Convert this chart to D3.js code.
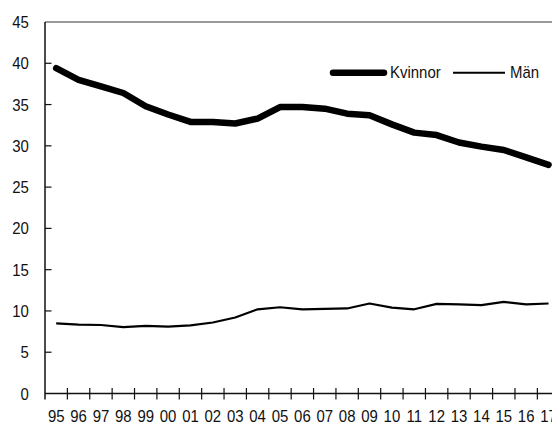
<!DOCTYPE html>
<html>
<head>
<meta charset="utf-8">
<script src="https://cdn.jsdelivr.net/npm/d3@7"></script>
<style>
  body { margin: 0; background: #fff; }
  text { font-family: "Liberation Sans", Arial, sans-serif; font-size: 17px; fill: #111; }
</style>
</head>
<body>
<svg id="chart" width="552" height="424"></svg>
<script>
const years = ["95","96","97","98","99","00","01","02","03","04","05","06","07","08","09","10","11","12","13","14","15","16","17"];
const kvinnor = [39.4, 38.0, 37.2, 36.4, 34.8, 33.8, 32.9, 32.9, 32.7, 33.3, 34.7, 34.7, 34.5, 33.9, 33.7, 32.6, 31.6, 31.3, 30.4, 29.9, 29.5, 28.6, 27.7];
const man = [8.5, 8.35, 8.3, 8.05, 8.2, 8.1, 8.25, 8.6, 9.2, 10.2, 10.45, 10.2, 10.25, 10.3, 10.9, 10.4, 10.2, 10.85, 10.8, 10.7, 11.1, 10.8, 10.9];
const yTicks = [0, 5, 10, 15, 20, 25, 30, 35, 40, 45];
const seriesNames = ["Kvinnor", "Män"];

const svg = d3.select("#chart");
const plotLeft = 45, plotTop = 22, plotBottom = 393.5;
const bandW = 22.38;
const squeeze = 0.88; // condensed look

const x = d3.scaleBand()
    .domain(years)
    .range([plotLeft, plotLeft + bandW * years.length])
    .paddingInner(0).paddingOuter(0);

const y = d3.scaleLinear()
    .domain([0, 45])
    .range([plotBottom, plotTop]);

function place(tx, ty) {
    return `translate(${tx},${ty}) scale(${squeeze},1)`;
}

// top frame line
svg.append("line")
    .attr("x1", plotLeft).attr("x2", 552)
    .attr("y1", plotTop).attr("y2", plotTop)
    .attr("stroke", "#777").attr("stroke-width", 1.5);

// y axis
const yAxis = svg.append("g");
yAxis.append("line")
    .attr("x1", plotLeft).attr("x2", plotLeft)
    .attr("y1", plotTop).attr("y2", 399.5)
    .attr("stroke", "#111").attr("stroke-width", 1.5);
yAxis.selectAll("line.tick")
    .data(yTicks.filter(d => d > 0 && d < 45))
    .join("line")
    .classed("tick", true)
    .attr("x1", plotLeft).attr("x2", plotLeft + 6.5)
    .attr("y1", d => y(d)).attr("y2", d => y(d))
    .attr("stroke", "#111").attr("stroke-width", 1.2);
yAxis.selectAll("text")
    .data(yTicks)
    .join("text")
    .attr("transform", d => place(28.8, y(d) + 6))
    .attr("text-anchor", "end")
    .text(d => d);

// x axis
const xAxis = svg.append("g");
xAxis.append("line")
    .attr("x1", plotLeft).attr("x2", 552)
    .attr("y1", plotBottom).attr("y2", plotBottom)
    .attr("stroke", "#111").attr("stroke-width", 1.5);
xAxis.selectAll("line.tick")
    .data(years.slice(1))
    .join("line")
    .classed("tick", true)
    .attr("x1", d => x(d)).attr("x2", d => x(d))
    .attr("y1", plotBottom - 5.5).attr("y2", plotBottom + 6)
    .attr("stroke", "#111").attr("stroke-width", 1.2);
xAxis.selectAll("text")
    .data(years)
    .join("text")
    .attr("transform", d => place(x(d) + x.bandwidth() / 2, 421.7))
    .attr("text-anchor", "middle")
    .text(d => d);

// lines
const line = d3.line()
    .curve(d3.curveLinear)
    .x((d, i) => x(years[i]) + x.bandwidth() / 2)
    .y(d => y(d));

svg.append("path")
    .attr("fill", "none")
    .attr("stroke", "#000")
    .attr("stroke-width", 2.2)
    .attr("stroke-linejoin", "round")
    .attr("d", line(man));

svg.append("path")
    .attr("fill", "none")
    .attr("stroke", "#000")
    .attr("stroke-width", 6.5)
    .attr("stroke-linejoin", "round")
    .attr("stroke-linecap", "round")
    .attr("d", line(kvinnor));

// legend
const legend = svg.append("g");
legend.append("line")
    .attr("x1", 333).attr("x2", 384)
    .attr("y1", 72.7).attr("y2", 72.7)
    .attr("stroke", "#000").attr("stroke-width", 6.5)
    .attr("stroke-linecap", "round");
legend.append("text")
    .attr("transform", place(390, 78.3))
    .text(seriesNames[0]);
legend.append("line")
    .attr("x1", 453).attr("x2", 505)
    .attr("y1", 72.7).attr("y2", 72.7)
    .attr("stroke", "#000").attr("stroke-width", 2);
legend.append("text")
    .attr("transform", place(510, 78.3))
    .text(seriesNames[1]);
</script>
</body>
</html>
